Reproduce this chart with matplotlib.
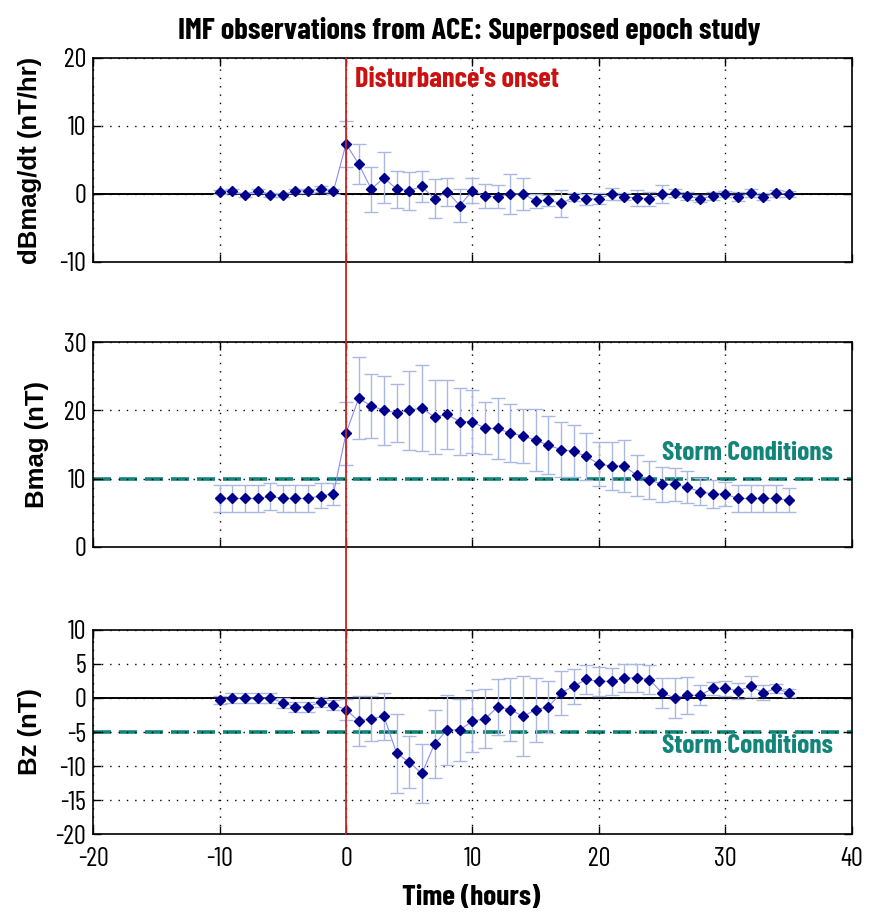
import matplotlib
matplotlib.use('Agg')
import matplotlib.pyplot as plt
from matplotlib.patches import ConnectionPatch

plt.rcParams['font.family'] = ['Barlow Condensed', 'DejaVu Sans']
plt.rcParams['axes.unicode_minus'] = False

hours = list(range(-10, 36))

dbdt = [0.3, 0.4, -0.1, 0.5, -0.1, -0.15, 0.5, 0.4, 0.7, 0.4,
        7.35, 4.4, 0.7, 2.4, 0.7, 0.5, 1.1, -0.7, 0.3, -1.7,
        0.5, -0.3, -0.4, 0.0, 0.0, -1.0, -0.9, -1.4, -0.5, -0.8,
        -0.7, 0.0, -0.4, -0.6, -0.7, 0.0, 0.1, -0.3, -0.7, -0.3,
        0.0, -0.4, 0.1, -0.4, 0.1, 0.0]
dbdt_err = [0.3, 0.3, 0.3, 0.3, 0.3, 0.3, 0.3, 0.3, 0.4, 0.4,
            3.4, 3.0, 3.3, 3.8, 2.7, 2.8, 2.3, 2.9, 2.0, 2.4,
            1.8, 1.8, 1.7, 3.0, 2.3, 1.0, 0.8, 2.0, 0.6, 0.8,
            0.8, 0.9, 0.5, 1.2, 1.0, 1.3, 0.6, 0.6, 0.5, 0.6,
            0.5, 0.7, 0.6, 0.5, 0.5, 0.4]

bmag = [7.1, 7.1, 7.1, 7.1, 7.4, 7.1, 7.1, 7.1, 7.5, 7.75,
        16.65, 21.75, 20.65, 20.0, 19.65, 20.0, 20.35, 19.0, 19.4, 18.35,
        18.35, 17.35, 17.35, 16.65, 16.25, 15.65, 14.9, 14.25, 14.0, 13.25,
        12.15, 11.85, 11.85, 10.5, 9.85, 9.15, 9.15, 8.75, 8.1, 7.75,
        7.75, 7.1, 7.1, 7.1, 7.1, 6.85]
bmag_err = [2.0, 2.0, 2.0, 2.0, 2.0, 2.0, 2.0, 2.0, 1.8, 1.6,
            4.6, 6.0, 4.7, 5.0, 4.25, 5.8, 6.3, 5.4, 5.1, 4.9,
            4.6, 3.8, 4.4, 4.25, 4.0, 4.5, 4.2, 4.0, 3.8, 3.5,
            3.25, 3.5, 3.8, 3.0, 2.8, 2.5, 2.4, 2.3, 2.0, 2.0,
            1.75, 2.0, 2.0, 2.0, 2.0, 1.75]

bz = [-0.35, 0.0, 0.0, 0.0, 0.0, -0.7, -1.3, -1.3, -0.6, -1.0,
      -1.7, -3.4, -3.05, -2.7, -8.1, -9.45, -11.1, -6.75, -4.7, -4.7,
      -3.4, -3.05, -1.3, -1.7, -2.7, -1.7, -1.3, 0.75, 1.7, 2.75,
      2.45, 2.45, 2.95, 2.95, 2.7, 0.75, 0.0, 0.4, 0.4, 1.4,
      1.4, 1.05, 1.7, 0.75, 1.4, 0.75]
bz_err = [0.6, 0.7, 0.7, 0.7, 0.7, 0.7, 0.7, 0.7, 0.7, 0.7,
          1.5, 3.7, 3.3, 3.5, 5.8, 3.8, 4.3, 5.05, 5.2, 4.5,
          4.6, 4.3, 4.1, 4.6, 5.9, 4.7, 3.8, 3.2, 2.6, 2.1,
          2.1, 2.0, 2.1, 2.0, 2.1, 2.2, 3.0, 2.7, 1.5, 1.0,
          1.1, 1.2, 1.6, 1.1, 0.7, 0.6]

storm_bmag = 10
storm_bz = -5

fig = plt.figure(figsize=(8.79, 9.15), dpi=100)
ax1 = fig.add_axes([0.106, 0.7137, 0.863, 0.223])
ax2 = fig.add_axes([0.106, 0.4022, 0.863, 0.224])
ax3 = fig.add_axes([0.106, 0.0885, 0.863, 0.223])

err_col = '#aab8e4'
pt_col = '#00008b'
ln_col = '#8c8cf0'
storm_col = '#12857a'

# ylabel x position (axes coords) differs a bit per panel, like the original
panels = [
    (ax1, dbdt, dbdt_err, (-10, 20), [-10, 0, 10, 20], 'dBmag/dt (nT/hr)', -0.067),
    (ax2, bmag, bmag_err, (0, 30), [0, 10, 20, 30], 'Bmag (nT)', -0.058),
    (ax3, bz, bz_err, (-20, 10), [-20, -15, -10, -5, 0, 5, 10], 'Bz (nT)', -0.068),
]

for ax, y, e, lim, yt, lab, lx in panels:
    ax.errorbar(hours, y, yerr=e, fmt='none', ecolor=err_col, elinewidth=1,
                capsize=5, capthick=1, zorder=2)
    ax.plot(hours, y, '-', color=ln_col, lw=0.8, zorder=3)
    ax.plot(hours, y, 'D', color=pt_col, ms=5, zorder=4)
    ax.set_xlim(-20, 40)
    ax.set_ylim(*lim)
    ax.set_yticks(yt)
    ax.set_xticks(range(-20, 41, 10))
    ax.grid(True, color='black', linestyle=(0, (1, 5)), linewidth=1)
    ax.tick_params(direction='in', length=6, width=1, labelsize=19,
                   top=True, right=True)
    ax.tick_params(axis='y', pad=5)
    ax.tick_params(axis='x', pad=9)
    ax.set_ylabel(lab, fontsize=18.5, fontweight='bold',
                  family=['Liberation Sans', 'DejaVu Sans'])
    ax.yaxis.set_label_coords(lx, 0.5)
    for s in ax.spines.values():
        s.set_linewidth(1.2)

ax1.axhline(0, color='black', lw=1.4, zorder=1)
ax3.axhline(0, color='black', lw=1.4, zorder=1)
ax1.tick_params(labelbottom=False)
ax2.tick_params(labelbottom=False)

ax2.axhline(storm_bmag, color=storm_col, lw=2.6, dashes=(5, 2.2), zorder=1)
ax3.axhline(storm_bz, color=storm_col, lw=2.6, dashes=(5, 2.2), zorder=1)
ax2.text(38.5, 13.8, 'Storm Conditions', color=storm_col, fontsize=19.8,
         fontweight='bold', va='center', ha='right')
ax3.text(38.5, -7.0, 'Storm Conditions', color=storm_col, fontsize=19.8,
         fontweight='bold', va='center', ha='right')

ax1.text(0.7, 16.8, "Disturbance's onset", color='#cc1111', fontsize=20.4,
         fontweight='bold', va='center')

con = ConnectionPatch(xyA=(0, 20), coordsA=ax1.transData,
                      xyB=(0, -20), coordsB=ax3.transData,
                      color='#cc2222', lw=1.3, zorder=10)
fig.add_artist(con)

fig.text(0.5364, 0.0186, 'Time (hours)', fontsize=21.2, fontweight='bold',
         ha='center', va='center')
fig.text(0.5336, 0.966, 'IMF observations from ACE: Superposed epoch study',
         fontsize=22, fontweight='bold', ha='center', va='center')

fig.savefig('out.png', dpi=100)
